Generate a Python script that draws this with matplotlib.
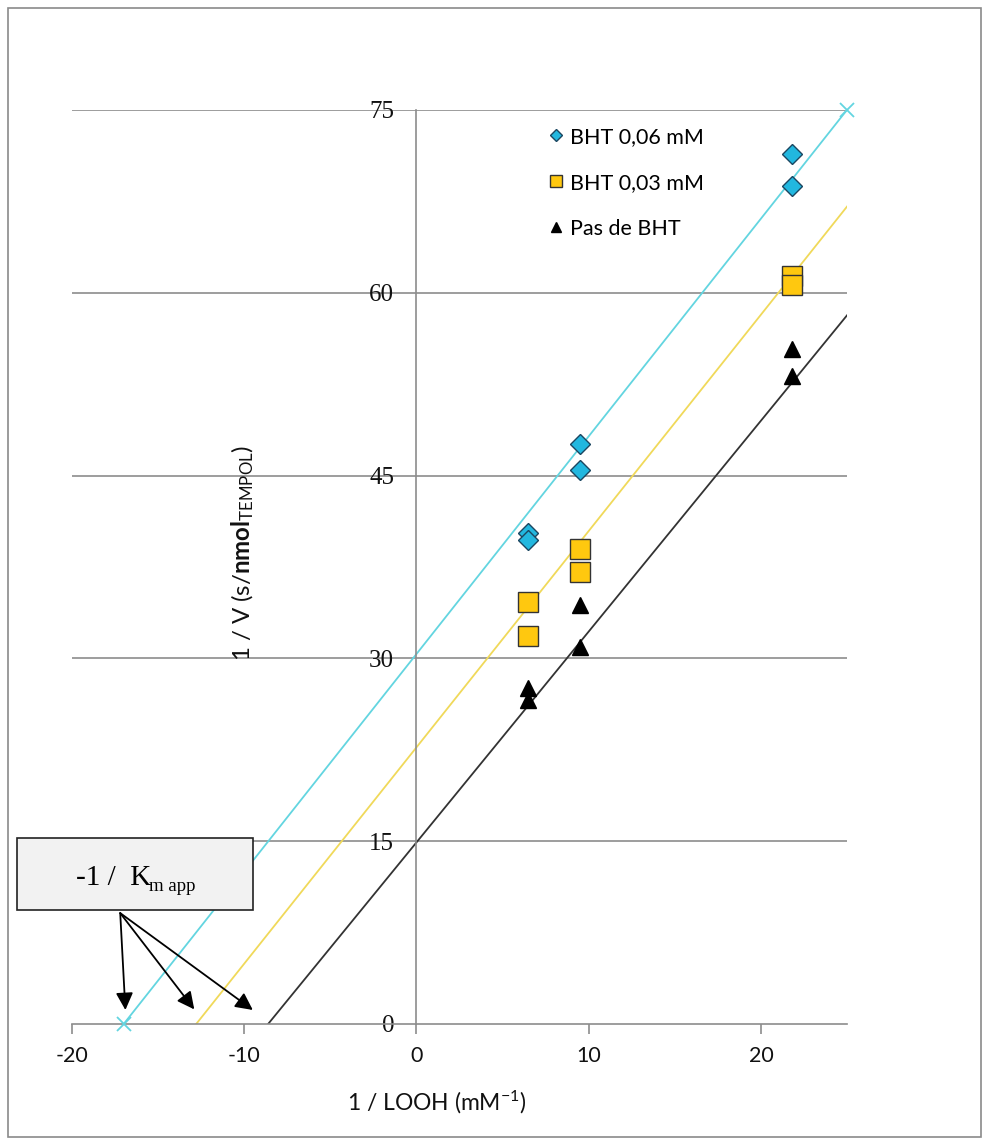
import numpy as np
import matplotlib
matplotlib.use("Agg")
import matplotlib.pyplot as plt
from matplotlib.patches import Rectangle

plt.rcParams['font.family'] = ['Lato', 'DejaVu Sans']
plt.rcParams['axes.unicode_minus'] = False
plt.rcParams['mathtext.fontset'] = 'custom'
plt.rcParams['mathtext.rm'] = 'Lato'
plt.rcParams['mathtext.it'] = 'Lato:italic'
plt.rcParams['mathtext.bf'] = 'Lato:bold'

# inverse substrate concentration (1/LOOH, mM-1)
inv_looh = [6.5, 6.5, 9.5, 9.5, 21.8, 21.8]

# 1/V for each condition (duplicates)
bht_006 = [40.3, 39.7, 47.6, 45.5, 71.4, 68.8]
bht_003 = [34.6, 31.8, 39.0, 37.1, 61.4, 60.6]
no_bht = [27.6, 26.6, 34.4, 30.9, 55.4, 53.2]

series_labels = ['BHT 0,06 mM', 'BHT 0,03 mM', 'Pas de BHT']

# drawn trend lines (slope, intercept), each from its x-intercept to x = 25
fit_slope = [1.786, 1.775, 1.73]
fit_intercept = [30.36, 22.7, 14.9]
fit_x_end = 25

# -1/Km app callout arrow targets
arrow_tips_x = [-16.9, -12.9, -9.5]
arrow_tips_y = [1.15, 1.2, 1.15]
arrow_start = (-17.2, 9.1)

xticks = [-20, -10, 0, 10, 20]
yticks = [0, 15, 30, 45, 60, 75]

line_colors = ['#63d5e0', '#f0d95a', '#333333']
grid_gray = '#8c8c8c'

fig = plt.figure(figsize=(9.84, 11.4), dpi=100)
ax = fig.add_axes([72 / 984, 116 / 1140, 775 / 984, 914 / 1140])

ax.set_xlim(-20, 25)
ax.set_ylim(0, 75)

# horizontal gridlines
for yv in yticks[1:]:
    ax.axhline(yv, color=grid_gray, lw=1.2, zorder=1)

# trend lines
for i in range(3):
    x0 = -fit_intercept[i] / fit_slope[i]
    xs = np.array([x0, fit_x_end])
    ys = fit_slope[i] * xs + fit_intercept[i]
    ax.plot(xs, ys, color=line_colors[i], lw=1.3, zorder=2)
    if i == 0:
        ax.plot(xs, ys, ls='none', marker='x', ms=10, mew=1.3,
                color=line_colors[i], zorder=3, clip_on=False)

# data points
ax.plot(inv_looh, bht_006, ls='none', marker='D', ms=10, mfc='#22b7df',
        mec='#1b4660', mew=1.0, label=series_labels[0], zorder=4)
ax.plot(inv_looh, bht_003, ls='none', marker='s', ms=14, mfc='#ffc80f',
        mec='#333333', mew=1.0, label=series_labels[1], zorder=4)
ax.plot(inv_looh, no_bht, ls='none', marker='^', ms=12, mfc='black',
        mec='black', mew=1.0, label=series_labels[2], zorder=4)

# axes styling: vertical axis at x = 0, horizontal axis at y = 0
for s in ['top', 'right']:
    ax.spines[s].set_visible(False)
ax.spines['left'].set_position(('data', 0))
ax.spines['left'].set_color(grid_gray)
ax.spines['left'].set_linewidth(1.2)
ax.spines['bottom'].set_color(grid_gray)
ax.spines['bottom'].set_linewidth(1.2)

ax.set_xticks(xticks)
ax.set_yticks(yticks)
ax.tick_params(axis='x', direction='out', length=7, width=1.2, color=grid_gray,
               pad=9, labelsize=15.5, labelcolor='#111111')
ax.tick_params(axis='y', length=0, pad=16, labelsize=18, labelcolor='#111111')
for lab in ax.get_yticklabels():
    lab.set_fontfamily('Liberation Serif')

ax.set_xlabel(r'1 / LOOH (mM$^{\mathrm{-1}}$)', fontsize=16.5, color='#111111')
ax.xaxis.set_label_coords(0.471, -0.071)

ax.text(0.221, 0.515, r'1 / V (s/$\mathbf{nmol}_{\mathrm{TEMPOL}}$)',
        transform=ax.transAxes, rotation=90, ha='center', va='center',
        fontsize=17.3, color='#111111')

ax.legend(loc='upper left', bbox_to_anchor=(0.604, 0.991), frameon=False,
          fontsize=15.5, handlelength=0.7, handletextpad=0.3,
          labelspacing=1.2, markerscale=0.65, borderaxespad=0)

# -1 / Km app callout box
box = Rectangle((-23.2, 9.35), 13.7, 5.95, facecolor='#f2f2f2',
                edgecolor='#222222', lw=1.2, clip_on=False, zorder=5)
ax.add_patch(box)
t = ax.text(-17.6, 12.0, '-1 /  K', fontfamily='Liberation Serif',
            fontsize=21, ha='center', va='center', zorder=6)
ax.annotate('m app', xy=(0.97, 0.15), xycoords=t, fontfamily='Liberation Serif',
            fontsize=13.5, ha='left', va='center', zorder=6)
for tx, ty in zip(arrow_tips_x, arrow_tips_y):
    ax.annotate('', xy=(tx, ty), xytext=arrow_start,
                arrowprops=dict(arrowstyle='-|>', color='black', lw=1.3,
                                mutation_scale=26, shrinkA=0, shrinkB=0),
                zorder=6)

# chart-area border
fig.patches.append(Rectangle((8 / 984, 3 / 1140), 973 / 984, 1129 / 1140,
                             transform=fig.transFigure, fill=False,
                             edgecolor='#8a8a8a', lw=1.2))

fig.savefig('out.png', dpi=100)
